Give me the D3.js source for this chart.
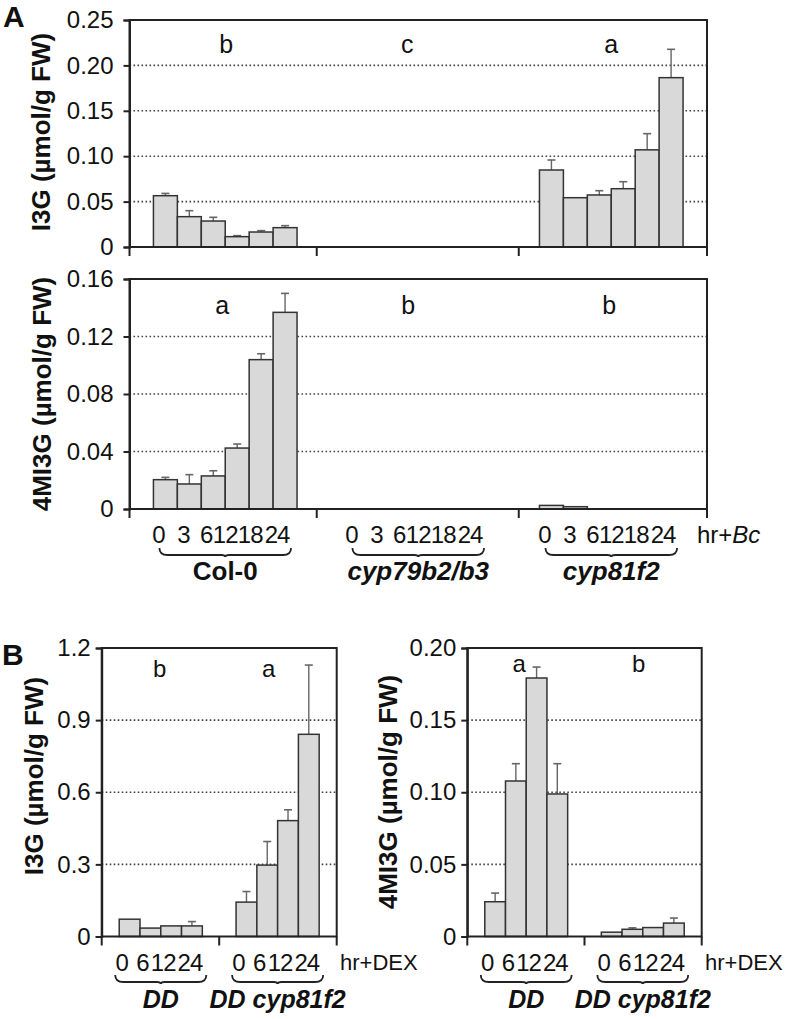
<!DOCTYPE html>
<html><head><meta charset="utf-8">
<script src="https://cdn.jsdelivr.net/npm/d3@7"></script>
<style>body{margin:0;background:#fff} svg{display:block;font-family:"Liberation Sans",Arial,Helvetica,sans-serif}</style>
</head><body><svg id="c" width="789" height="1019"></svg>
<script>
// ---------- DATA ----------
const timesA = ["0", "3", "6", "12", "18", "24"];
const genotypesA = ["Col-0", "cyp79b2/b3", "cyp81f2"];
const italicA = [false, true, true];
const ticksI3gA = [0, 0.05, 0.10, 0.15, 0.20, 0.25];
const i3gA = [
  [0.0565, 0.0334, 0.0286, 0.0114, 0.0165, 0.0213],
  [0, 0, 0, 0, 0, 0],
  [0.0848, 0.0543, 0.0573, 0.0642, 0.107, 0.1865]
];
const i3gAErr = [
  [0.0025, 0.0066, 0.0041, 0.0011, 0.0015, 0.0022],
  [0, 0, 0, 0, 0, 0],
  [0.011, 0, 0.0047, 0.0077, 0.0178, 0.0312]
];
const lettersI3gA = ["b", "c", "a"];
const ticks4mi3gA = [0, 0.04, 0.08, 0.12, 0.16];
const m4i3gA = [
  [0.0204, 0.0174, 0.023, 0.0424, 0.1039, 0.1368],
  [0, 0, 0, 0, 0, 0],
  [0.0025, 0.0016, 0, 0, 0, 0]
];
const m4i3gAErr = [
  [0.0016, 0.0065, 0.0036, 0.0028, 0.0041, 0.0132],
  [0, 0, 0, 0, 0, 0],
  [0, 0, 0, 0, 0, 0]
];
const letters4mi3gA = ["a", "b", "b"];

const timesB = ["0", "6", "12", "24"];
const genotypesB = ["DD", "DD cyp81f2"];
const italicB = [true, true];
const ticksI3gB = [0, 0.3, 0.6, 0.9, 1.2];
const i3gB = [
  [0.072, 0.035, 0.044, 0.044],
  [0.143, 0.297, 0.482, 0.841]
];
const i3gBErr = [
  [0, 0, 0, 0.018],
  [0.044, 0.098, 0.045, 0.288]
];
const lettersI3gB = ["b", "a"];
const ticks4mi3gB = [0, 0.05, 0.10, 0.15, 0.20];
const m4i3gB = [
  [0.0241, 0.1078, 0.1792, 0.0988],
  [0.0030, 0.0050, 0.0062, 0.0093]
];
const m4i3gBErr = [
  [0.006, 0.012, 0.0076, 0.021],
  [0, 0.001, 0, 0.0035]
];
const letters4mi3gB = ["a", "b"];

// ---------- LAYOUT NUDGES (pixels, not data) ----------
const nudgeTimeA = [-7, -6, -7, -12, -11, -8];
const nudgeTimeB = [-8, -8, -8, -2];

// ---------- DRAWING ----------
const svg = d3.select("#c");
const INK = "#222";
const FONT = '"Liberation Sans",Arial,sans-serif';

function panel(cfg) {
  const g = svg.append("g");
  const y = d3.scaleLinear().domain([0, cfg.max]).range([cfg.y0, cfg.yTop]);
  const gx = d3.scaleBand().domain(cfg.groups).range([cfg.x0, cfg.x1])
    .paddingInner(cfg.pi).paddingOuter(cfg.po);
  const bx = d3.scaleBand().domain(cfg.times).range([0, gx.bandwidth()]).padding(0);

  // dotted gridlines
  g.selectAll("line.grid").data(cfg.ticks.filter(t => t > 0 && t < cfg.max - 1e-9)).join("line")
    .attr("class", "grid")
    .attr("x1", cfg.x0).attr("x2", cfg.x1)
    .attr("y1", d => y(d)).attr("y2", d => y(d))
    .attr("stroke", "#444").attr("stroke-width", 1.6).attr("stroke-dasharray", "1.6,2.4");

  cfg.groups.forEach((grp, gi) => {
    const gg = g.append("g").attr("transform", `translate(${gx(grp)},0)`);
    const rows = cfg.times.map((t, i) => ({ t, v: cfg.values[gi][i], e: cfg.errors[gi][i] }));
    const eb = rows.filter(d => d.e > 0);
    gg.selectAll("line.err").data(eb).join("line").attr("class", "err")
      .attr("x1", d => bx(d.t) + bx.bandwidth() / 2).attr("x2", d => bx(d.t) + bx.bandwidth() / 2)
      .attr("y1", d => y(d.v)).attr("y2", d => y(d.v + d.e))
      .attr("stroke", "#666").attr("stroke-width", 1.4);
    gg.selectAll("line.cap").data(eb).join("line").attr("class", "cap")
      .attr("x1", d => bx(d.t) + bx.bandwidth() / 2 - 4).attr("x2", d => bx(d.t) + bx.bandwidth() / 2 + 4)
      .attr("y1", d => y(d.v + d.e)).attr("y2", d => y(d.v + d.e))
      .attr("stroke", "#666").attr("stroke-width", 1.6);
    gg.selectAll("rect").data(rows.filter(d => d.v > 0)).join("rect")
      .attr("x", d => bx(d.t)).attr("width", bx.bandwidth())
      .attr("y", d => y(d.v)).attr("height", d => cfg.y0 - y(d.v))
      .attr("fill", "#d9d9d9").attr("stroke", "#333").attr("stroke-width", 1.5);

    // significance letter
    g.append("text").attr("x", gx(grp) + gx.bandwidth() / 2 + cfg.letterDx[gi]).attr("y", cfg.letterY)
      .attr("text-anchor", "middle").attr("font-size", cfg.letterSize).attr("fill", "#111")
      .text(cfg.letters[gi]);

    if (cfg.xlabels) {
      const ax = gg.append("g").attr("transform", `translate(0,${cfg.y0})`)
        .call(d3.axisBottom(bx).tickSize(0).tickPadding(cfg.labelPad));
      ax.select(".domain").remove();
      ax.selectAll("text").attr("font-size", cfg.timeSize).attr("fill", "#111")
        .attr("font-family", FONT)
        .attr("letter-spacing", cfg.timeSpacing)
        .attr("dx", (d, i) => cfg.timeNudge[i]);
      // brace
      const xa = -cfg.braceOut, xb = gx.bandwidth() + cfg.braceOut, yt = cfg.braceY, yb = cfg.braceY + 7;
      const xm = (xa + xb) / 2;
      gg.append("path")
        .attr("d", `M${xa},${yt} Q${xa},${yb} ${xa + 8},${yb} L${xm - 4},${yb} Q${xm},${yb} ${xm},${yb + 2} Q${xm},${yb} ${xm + 4},${yb} L${xb - 8},${yb} Q${xb},${yb} ${xb},${yt}`)
        .attr("fill", "none").attr("stroke", INK).attr("stroke-width", 1.8);
      gg.append("text").attr("x", gx.bandwidth() / 2).attr("y", cfg.nameY)
        .attr("text-anchor", "middle").attr("font-size", cfg.nameSize)
        .attr("font-weight", "bold").attr("font-style", cfg.italic[gi] ? "italic" : "normal")
        .attr("fill", "#111").text(grp);
    }
  });

  // frame
  g.append("rect").attr("x", cfg.x0).attr("y", cfg.yTop)
    .attr("width", cfg.x1 - cfg.x0).attr("height", cfg.y0 - cfg.yTop)
    .attr("fill", "none").attr("stroke", INK).attr("stroke-width", 2);

  // y axis
  const ya = g.append("g").attr("transform", `translate(${cfg.x0},0)`)
    .call(d3.axisLeft(y).tickValues(cfg.ticks).tickSize(6).tickPadding(cfg.tickPad).tickFormat(cfg.fmt));
  ya.select(".domain").attr("stroke", INK).attr("stroke-width", 2);
  ya.selectAll(".tick line").attr("stroke", INK).attr("stroke-width", 2);
  ya.selectAll("text").attr("font-size", cfg.tickSize).attr("fill", "#111").attr("font-family", FONT);

  // x axis group-divider ticks
  const gs = cfg.groups;
  const divs = [cfg.x0];
  for (let i = 0; i < gs.length - 1; i++) {
    divs.push((gx(gs[i]) + gx.bandwidth() + gx(gs[i + 1])) / 2 + (cfg.divNudge ? cfg.divNudge[i] : 0));
  }
  divs.push(cfg.x1);
  g.selectAll("line.div").data(divs).join("line").attr("class", "div")
    .attr("x1", d => d).attr("x2", d => d).attr("y1", cfg.y0).attr("y2", cfg.y0 + 9)
    .attr("stroke", INK).attr("stroke-width", 2);

  // y title
  g.append("text").attr("transform", `translate(${cfg.titleX},${cfg.titleY}) rotate(-90)`)
    .attr("text-anchor", "middle").attr("dy", "0.35em")
    .attr("font-size", cfg.titleSize).attr("font-weight", "bold").attr("fill", "#111")
    .text(cfg.title);

  if (cfg.unit) {
    const t = g.append("text").attr("x", cfg.unitX).attr("y", cfg.y0 + cfg.unitDy)
      .attr("font-size", cfg.unitSize).attr("fill", "#111");
    t.append("tspan").text(cfg.unit[0]);
    if (cfg.unit[1]) t.append("tspan").attr("font-style", "italic").text(cfg.unit[1]);
  }
}

const f2 = d => d === 0 ? "0" : d3.format(".2f")(d);
const f1 = d => d === 0 ? "0" : d3.format(".1f")(d);

// Panel A top
panel({
  x0: 129.5, x1: 707, yTop: 20, y0: 247, max: 0.25, ticks: ticksI3gA, fmt: f2,
  groups: genotypesA, times: timesA, values: i3gA, errors: i3gAErr, pi: 0.256, po: 0.124,
  letters: lettersI3gA, letterDx: [1, -11, 0], letterY: 53, letterSize: 25, tickSize: 24, tickPad: 10,
  title: "I3G (µmol/g FW)", titleX: 41, titleY: 132, titleSize: 26, divNudge: [-5, 4]
});
// Panel A bottom
panel({
  x0: 129.5, x1: 707, yTop: 279, y0: 509, max: 0.16, ticks: ticks4mi3gA, fmt: f2,
  groups: genotypesA, times: timesA, values: m4i3gA, errors: m4i3gAErr, pi: 0.256, po: 0.124,
  letters: letters4mi3gA, letterDx: [-3, -10, -2], letterY: 314, letterSize: 25, tickSize: 24, tickPad: 10,
  title: "4MI3G (µmol/g FW)", titleX: 42, titleY: 394, titleSize: 26, divNudge: [-5, 4],
  xlabels: true, labelPad: 17, timeSize: 24, timeSpacing: -1, timeNudge: nudgeTimeA,
  braceOut: -6, braceY: 548, nameY: 580, nameSize: 26, italic: italicA,
  unit: ["hr+", "Bc"], unitX: 697, unitDy: 34, unitSize: 24
});
// Panel B left
panel({
  x0: 101.7, x1: 336.7, yTop: 648, y0: 936.5, max: 1.2, ticks: ticksI3gB, fmt: f1,
  groups: genotypesB, times: timesB, values: i3gB, errors: i3gBErr, pi: 0.289, po: 0.15,
  letters: lettersI3gB, letterDx: [-1, -9], letterY: 677, letterSize: 24, tickSize: 24, tickPad: 5,
  title: "I3G (µmol/g FW)", titleX: 34, titleY: 776, titleSize: 26,
  xlabels: true, labelPad: 17, timeSize: 24, timeSpacing: -1, timeNudge: nudgeTimeB,
  braceOut: 4, braceY: 975, nameY: 1008, nameSize: 25, italic: italicB,
  unit: ["hr+DEX"], unitX: 340, unitDy: 33.5, unitSize: 22
});
// Panel B right
panel({
  x0: 467.3, x1: 701.7, yTop: 648, y0: 936.5, max: 0.20, ticks: ticks4mi3gB, fmt: f2,
  groups: genotypesB, times: timesB, values: m4i3gB, errors: m4i3gBErr, pi: 0.289, po: 0.15,
  letters: letters4mi3gB, letterDx: [-7, -4], letterY: 672, letterSize: 24, tickSize: 24, tickPad: 5,
  title: "4MI3G (µmol/g FW)", titleX: 388, titleY: 792, titleSize: 26,
  xlabels: true, labelPad: 17, timeSize: 24, timeSpacing: -1, timeNudge: nudgeTimeB,
  braceOut: 4, braceY: 975, nameY: 1008, nameSize: 25, italic: italicB,
  unit: ["hr+DEX"], unitX: 705, unitDy: 33.5, unitSize: 22
});

// panel letters
svg.append("text").attr("x", 3).attr("y", 27).attr("font-size", 30).attr("font-weight", "bold").attr("fill", "#111").text("A");
svg.append("text").attr("x", 2).attr("y", 665).attr("font-size", 30).attr("font-weight", "bold").attr("fill", "#111").text("B");
</script>
</body></html>
